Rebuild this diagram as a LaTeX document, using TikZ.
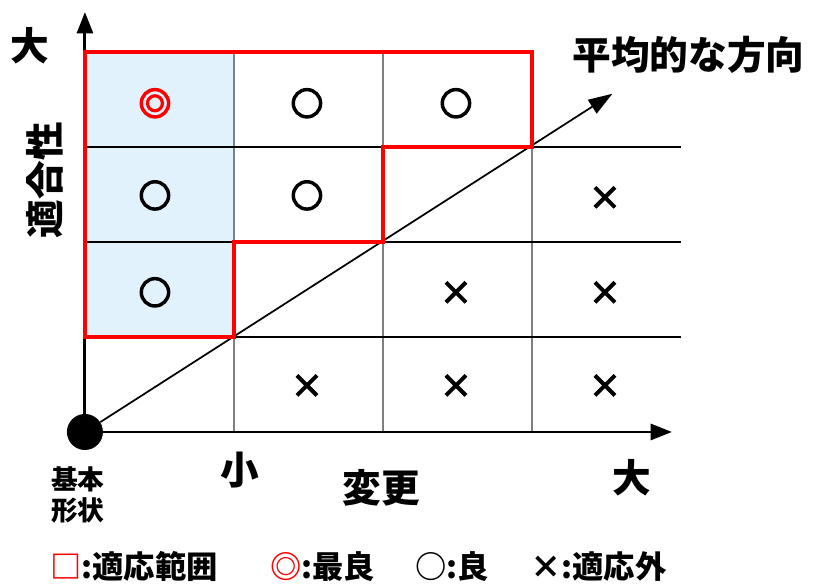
\documentclass[tikz,border=0pt]{standalone}
\usepackage{fontspec}
\setmainfont{Noto Sans CJK JP}
\usetikzlibrary{arrows.meta, shapes.misc, positioning}
\definecolor{fitblue}{RGB}{225,242,252}
\tikzset{
	big/.style={font=\bfseries\fontsize{29}{33}\selectfont, inner sep=0pt},
	small/.style={font=\bfseries\fontsize{20}{23}\selectfont, inner sep=0pt},
	legend/.style={font=\bfseries\fontsize{23.5}{27}\selectfont, inner sep=0pt, anchor=west},
	good/.style={circle, draw, line width=2.6pt, minimum size=20.5pt, inner sep=0pt},
	best/.style={good, draw=red, path picture={\draw[red, line width=2.4pt] (path picture bounding box.center) circle[radius=5.6pt];}},
	bad/.style={cross out, draw, line width=3pt, minimum size=12pt, inner sep=0pt},
}

\begin{document}
\begin{tikzpicture}[x=111.75pt, y=71.25pt]
	\useasboundingbox (-0.570,-1.6) rectangle (4.940,4.547);
	% area of the base shape column
	\fill[fitblue] (0,1) rectangle (1,4);
	% grid
	\draw[gray, line width=1pt] (1,0) -- (1,4); 
	\draw[gray, line width=1pt] (2,0) -- (2,4); 
	\draw[gray, line width=1pt] (3,0) -- (3,3); 
	\draw[line width=1pt] (0,1) -- (4,1); 
	\draw[line width=1pt] (0,2) -- (4,2); 
	\draw[line width=1pt] (0,3) -- (4,3); 
	% axes
	\node[circle, fill=black, minimum size=27pt, inner sep=0pt] (o) at (0,0) {};
	\coordinate (xend) at (3.94,0);
	\coordinate (yend) at (0,4.42);
	\coordinate (dend) at (3.54,3.56);
	\draw[line width=1.3pt, -{Triangle[length=18pt,width=12pt]}] (o) -- (dend); 
	\draw[line width=2.2pt, -{Triangle[length=16pt,width=12pt]}] (o.center) -- (xend); 
	\draw[line width=2.2pt, -{Triangle[length=16pt,width=12pt]}] (o.center) -- (yend); 
	% fitting range
	\draw[red, line width=3pt, line join=miter] (0,4) -- (3,4) -- (3,3) -- (2,3) -- (2,2) -- (1,2) -- (1,1) -- (0,1) -- cycle; 
	% marks
	\node[best] (m14) at (0.47,3.46) {};
	\node[good] (m24) at (1.49,3.46) {};
	\node[good] (m34) at (2.49,3.46) {};
	\node[good] (m13) at (0.47,2.49) {};
	\node[good] (m23) at (1.49,2.49) {};
	\node[bad]  (m43) at (3.49,2.47) {};
	\node[good] (m12) at (0.47,1.47) {};
	\node[bad]  (m32) at (2.49,1.47) {};
	\node[bad]  (m42) at (3.49,1.47) {};
	\node[bad]  (m21) at (1.49,0.49) {};
	\node[bad]  (m31) at (2.49,0.49) {};
	\node[bad]  (m41) at (3.49,0.49) {};
	% labels
	\node[big] (ybig) at (-0.369,4.07) {大};
	\node[big, rotate=90] (ylab) at (-0.268,2.65) {適合性};
	\node[big] (dlab) at (4.05,3.97) {平均的な方向};
	\node[small, align=center] (base) at (-0.047,-0.66) {基本\\形状};
	\node[big] (xsmall) at (1.04,-0.40) {小};
	\node[big] (xlab) at (1.99,-0.59) {変更};
	\node[big] (xbig) at (3.67,-0.48) {大};
	% legend
	\node[legend] (leg1) at (-0.235,-1.42) {\textcolor{red}{□}:適応範囲};
	\node[legend] (leg2) at (1.242,-1.42) {\textcolor{red}{◎}:最良};
	\node[legend] (leg3) at (2.215,-1.42) {○:良};
	\node[legend] (leg4) at (2.987,-1.42) {×:適応外};
\end{tikzpicture}
\end{document}
